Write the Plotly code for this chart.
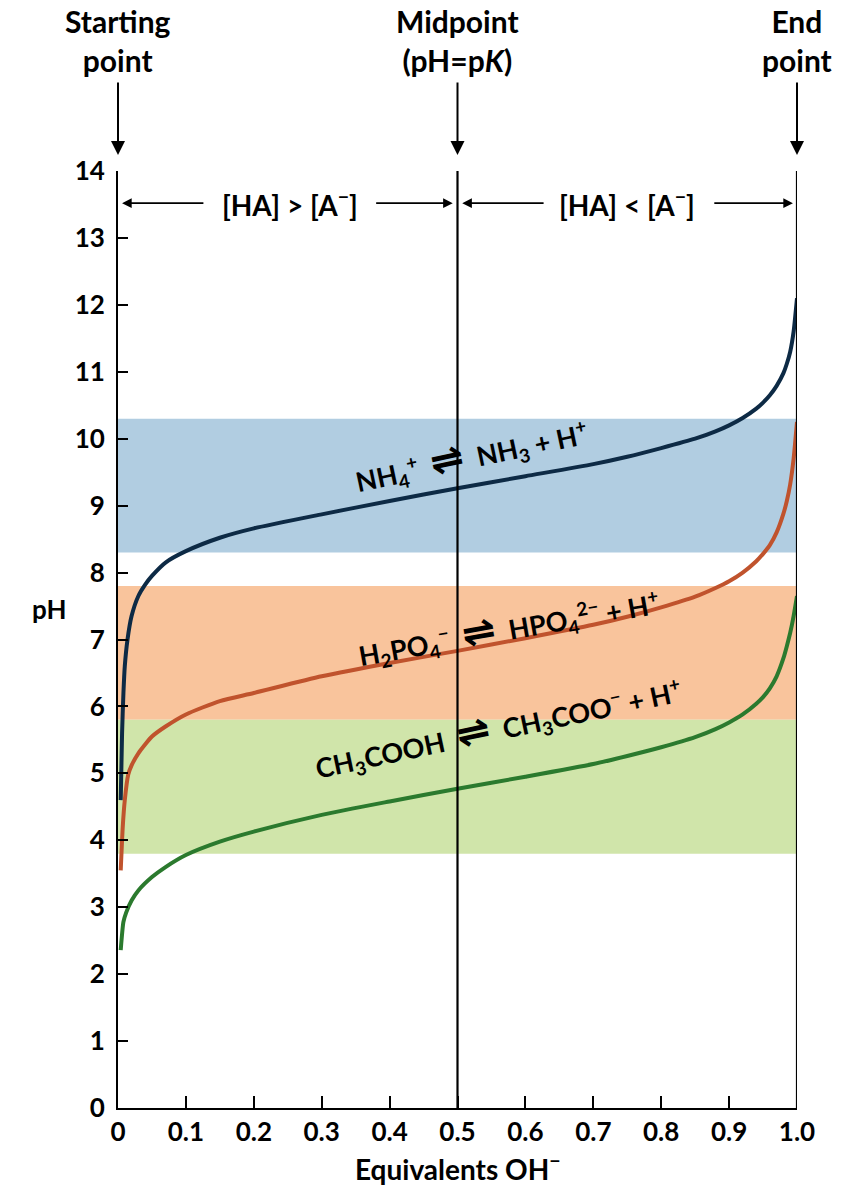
import plotly.graph_objects as go

# Equivalents of OH- added (x) and measured pH (y) for each weak acid
nh4_x = [0.004, 0.006, 0.008, 0.010, 0.014, 0.02, 0.03, 0.04, 0.05, 0.07, 0.10, 0.15, 0.20,
         0.30, 0.40, 0.50, 0.60, 0.70, 0.75, 0.80, 0.85, 0.88, 0.90, 0.92, 0.94, 0.95, 0.96,
         0.97, 0.98, 0.985, 0.99, 0.995, 1.0]
nh4_ph = [4.6, 5.6, 6.2, 6.6, 7.0, 7.35, 7.65, 7.82, 7.95, 8.15, 8.32, 8.52, 8.66,
          8.87, 9.07, 9.26, 9.44, 9.62, 9.73, 9.86, 10.0, 10.11, 10.2, 10.31, 10.45, 10.54, 10.65,
          10.79, 10.98, 11.12, 11.3, 11.6, 12.1]

phos_x = [0.004, 0.007, 0.010, 0.015, 0.02, 0.03, 0.05, 0.07, 0.10, 0.15, 0.20,
          0.30, 0.40, 0.50, 0.60, 0.70, 0.75, 0.80, 0.85, 0.88, 0.90, 0.92, 0.94, 0.95, 0.96,
          0.97, 0.98, 0.985, 0.99, 0.995, 1.0]
phos_ph = [3.55, 4.2, 4.6, 4.98, 5.12, 5.3, 5.55, 5.7, 5.88, 6.08, 6.2,
           6.45, 6.65, 6.83, 7.02, 7.22, 7.34, 7.48, 7.64, 7.77, 7.87, 8.0, 8.17, 8.28, 8.41,
           8.6, 8.88, 9.07, 9.32, 9.7, 10.25]

acet_x = [0.004, 0.008, 0.012, 0.02, 0.03, 0.05, 0.07, 0.10, 0.15, 0.20,
          0.30, 0.40, 0.50, 0.60, 0.70, 0.75, 0.80, 0.85, 0.88, 0.90, 0.92, 0.94, 0.95, 0.96,
          0.97, 0.98, 0.985, 0.99, 0.995, 1.0]
acet_ph = [2.36, 2.78, 2.92, 3.1, 3.25, 3.45, 3.6, 3.78, 3.98, 4.13,
           4.38, 4.58, 4.77, 4.95, 5.14, 5.26, 5.39, 5.54, 5.66, 5.76, 5.88, 6.04, 6.14, 6.27,
           6.45, 6.72, 6.9, 7.1, 7.35, 7.65]

# Buffering regions (pK ± 1)
band_low = [8.3, 5.8, 3.8]
band_high = [10.3, 7.8, 5.8]
band_colors = ["#b1cde1", "#f9c49c", "#d0e5aa"]

curve_colors = ["#0d2a45", "#c0532d", "#2b7a2e"]

x_ticks = [0, 0.1, 0.2, 0.3, 0.4, 0.5, 0.6, 0.7, 0.8, 0.9, 1.0]
x_tick_text = ["0", "0.1", "0.2", "0.3", "0.4", "0.5", "0.6", "0.7", "0.8", "0.9", "1.0"]
y_ticks = list(range(0, 15))

FONT = "Lato, 'Open Sans', sans-serif"
EQ = "&nbsp;&nbsp;<span style='font-family:DejaVu Sans;font-size:40px'>⇌</span>&nbsp;&nbsp;"

fig = go.Figure()

for xs, ys, c in [(nh4_x, nh4_ph, curve_colors[0]),
                  (phos_x, phos_ph, curve_colors[1]),
                  (acet_x, acet_ph, curve_colors[2])]:
    fig.add_trace(go.Scatter(x=xs, y=ys, mode="lines",
                             line=dict(color=c, width=4, shape="spline", smoothing=0.6),
                             showlegend=False, hoverinfo="skip"))

shapes = []
for lo, hi, c in zip(band_low, band_high, band_colors):
    shapes.append(dict(type="rect", xref="x", yref="y", x0=0, x1=1.0, y0=lo, y1=hi,
                       fillcolor=c, line=dict(width=0), layer="below"))
for xv in [0.5, 1.0]:
    shapes.append(dict(type="line", xref="x", yref="y", x0=xv, x1=xv, y0=0, y1=14,
                       line=dict(color="black", width=2.2)))

annotations = []
# Headers above the plot with downward arrows
headers = [(0.0, "Starting<br>point"), (0.5, "Midpoint<br>(pH=p<i>K</i>)"), (1.0, "End<br>point")]
for xv, txt in headers:
    annotations.append(dict(x=xv, y=1.139, xref="x", yref="paper", text=txt,
                            showarrow=False, xanchor="center", yanchor="middle",
                            font=dict(family=FONT, size=30, color="black", weight="bold")))
    annotations.append(dict(x=xv, y=1.0171, xref="x", yref="paper", text="",
                            showarrow=True, ax=0, ay=-74, arrowhead=2, arrowsize=1.4,
                            arrowwidth=2, arrowcolor="black", standoff=0))

# Region labels with horizontal arrows
region_y = 13.52
regions = [(0.254, "[HA] > [A<sup>−</sup>]", 0.128, 0.006, 0.378, 0.493),
           (0.750, "[HA] < [A<sup>−</sup>]", 0.629, 0.507, 0.876, 0.994)]
for cx, txt, lt, lh, rt, rh in regions:
    annotations.append(dict(x=cx, y=region_y, xref="x", yref="y", text=txt, showarrow=False,
                            font=dict(family=FONT, size=28, color="black", weight="bold")))
    for tail, head in [(lt, lh), (rt, rh)]:
        annotations.append(dict(x=head, y=region_y, xref="x", yref="y", text="",
                                showarrow=True, axref="x", ayref="y", ax=tail, ay=region_y,
                                arrowhead=2, arrowsize=1.2, arrowwidth=1.6,
                                arrowcolor="black", standoff=0))

# Equilibrium labels along each curve
reactions = [
    (0.52, 9.76, -12, "NH<sub>4</sub><sup>+</sup>" + EQ + "NH<sub>3</sub> + H<sup>+</sup>"),
    (0.575, 7.2, -10, "H<sub>2</sub>PO<sub>4</sub><sup>−</sup>" + EQ
     + "HPO<sub>4</sub><sup>2−</sup> + H<sup>+</sup>"),
    (0.56, 5.7, -12, "CH<sub>3</sub>COOH" + EQ + "CH<sub>3</sub>COO<sup>−</sup> + H<sup>+</sup>"),
]
for xv, yv, ang, txt in reactions:
    annotations.append(dict(x=xv, y=yv, xref="x", yref="y", text=txt, showarrow=False,
                            textangle=ang,
                            font=dict(family=FONT, size=27, color="black", weight="bold")))

# Axis titles
annotations.append(dict(x=-0.13, y=7.45, xref="paper", yref="y", text="pH", showarrow=False,
                        font=dict(family=FONT, size=26, color="black", weight="bold")))
annotations.append(dict(x=0.5, y=-0.064, xref="x", yref="paper", text="Equivalents OH<sup>−</sup>",
                        showarrow=False, yanchor="middle",
                        font=dict(family=FONT, size=28, color="black", weight="bold")))

fig.update_layout(
    width=852, height=1192,
    margin=dict(l=118, r=55, t=171, b=84),
    paper_bgcolor="white", plot_bgcolor="white",
    shapes=shapes, annotations=annotations,
    showlegend=False,
)
fig.update_xaxes(range=[0, 1.0], tickvals=x_ticks, ticktext=x_tick_text,
                 showline=True, linecolor="black", linewidth=2, showgrid=False, zeroline=False,
                 ticks="inside", ticklen=12, tickwidth=2, tickcolor="black",
                 tickfont=dict(family=FONT, size=26, color="black", weight="bold"))
fig.update_yaxes(range=[0, 14], tickvals=y_ticks,
                 showline=True, linecolor="black", linewidth=2, showgrid=False, zeroline=False,
                 ticks="inside", ticklen=10, tickwidth=2, tickcolor="black",
                 ticklabelstandoff=6,
                 tickfont=dict(family=FONT, size=26, color="black", weight="bold"))

fig.write_html("out.html")
